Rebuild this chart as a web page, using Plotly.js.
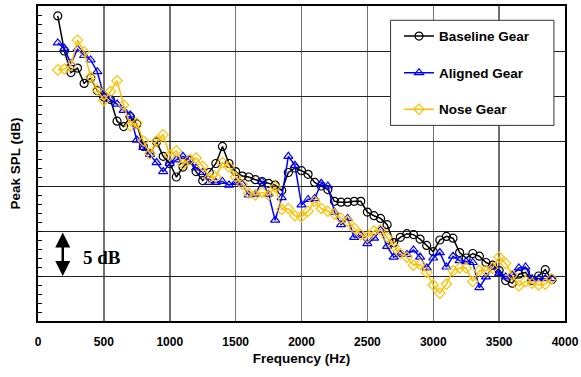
<!DOCTYPE html>
<html>
<head>
<meta charset="utf-8">
<script src="https://cdn.plot.ly/plotly-3.0.1.min.js"></script>
<style>html,body{margin:0;padding:0;background:#fff;}#chart{width:581px;height:377px;}</style>
</head>
<body>
<div id="chart"></div>
<script>
// Frequencies (Hz)
const freq = [150,200,250,300,350,400,450,500,550,600,650,700,750,800,850,900,950,1000,1050,1100,
  1150,1200,1250,1300,1350,1400,1450,1500,1550,1600,1650,1700,1750,1800,1850,1900,1950,2000,2050,2100,
  2150,2200,2250,2300,2350,2400,2450,2500,2550,2600,2650,2700,2750,2800,2850,2900,2950,3000,3050,3100,
  3150,3200,3250,3300,3350,3400,3450,3500,3550,3600,3650,3700,3750,3800,3850,3900];

// Peak SPL (dB, relative scale, 5 dB per grid division)
const baseline = [33.9,30.0,27.6,28.1,26.4,27.0,25.6,24.9,24.6,22.2,21.6,22.7,21.9,19.4,18.6,19.9,18.3,17.5,16.0,17.1,
  17.9,16.6,15.6,16.5,17.5,19.4,17.5,16.6,16.1,16.0,15.7,15.5,15.3,15.1,14.5,16.5,17.0,16.7,16.3,15.4,
  15.0,14.6,13.3,13.2,13.2,13.3,13.3,12.1,11.7,11.4,10.7,8.7,9.3,9.7,9.6,9.1,8.4,7.7,9.0,9.4,
  9.2,7.6,7.0,7.5,7.2,6.5,6.2,5.6,4.5,4.2,5.2,5.4,4.5,5.0,5.7,4.6];

const aligned = [30.9,30.3,28.6,30.2,29.5,29.0,27.7,25.0,24.6,24.1,23.4,22.9,20.1,19.3,18.5,17.6,16.6,17.5,17.9,18.3,
  17.9,17.0,16.5,15.4,15.4,15.5,15.1,15.4,15.2,14.0,14.1,15.5,14.1,11.2,13.7,18.3,17.3,12.9,13.5,13.6,
  15.3,15.0,12.1,10.7,11.4,9.3,9.5,8.6,9.2,10.1,8.3,7.1,7.4,7.4,7.9,7.1,5.9,7.0,7.6,6.0,
  7.2,6.7,6.6,6.5,3.7,4.9,6.0,5.3,4.9,5.1,5.9,6.0,4.7,4.7,4.7,4.7];

const nose = [27.9,28.0,28.4,31.2,29.9,27.1,25.7,24.5,25.5,26.7,24.0,21.7,22.0,20.0,18.6,20.0,20.7,18.4,18.9,17.4,
  17.9,18.1,17.2,15.9,16.0,17.6,17.1,16.0,15.2,14.2,14.0,14.3,14.0,14.9,12.4,12.5,11.7,11.6,12.2,13.3,
  12.5,12.2,11.9,11.4,11.1,10.3,9.6,9.3,10.0,10.1,9.3,8.3,7.5,7.1,6.2,6.3,5.4,4.0,3.1,4.1,
  5.6,5.9,5.9,4.4,5.6,5.6,5.9,7.1,6.4,5.1,3.9,4.4,4.2,4.0,4.1,4.7];

const seriesNames = ["Baseline Gear","Aligned Gear","Nose Gear"];
const xTicks = [0,500,1000,1500,2000,2500,3000,3500,4000];

const F = "Liberation Sans, Arial, sans-serif";
const traces = [
  {x:freq, y:baseline, name:seriesNames[0], legendgroup:"a", mode:"lines+markers",
   line:{color:"#000000", width:1.5}, marker:{symbol:"circle-open", size:8, color:"#000000", line:{width:1.2}}},
  {x:freq, y:aligned, name:seriesNames[1], legendgroup:"b", mode:"lines+markers",
   line:{color:"#0000FF", width:1.5}, marker:{symbol:"triangle-up-open", size:8, color:"#0000FF", line:{width:1.2}}},
  {x:freq, y:nose, name:seriesNames[2], legendgroup:"c", mode:"lines+markers",
   line:{color:"#FFC000", width:1.5}, marker:{symbol:"diamond-open", size:8, color:"#FFC000", line:{width:1.2}}}
];

const layout = {
  width:581, height:377,
  margin:{l:38, r:16, t:6, b:56, pad:0},
  paper_bgcolor:"#fff", plot_bgcolor:"#fff",
  showlegend:true,
  legend:{x:0.685, y:0.953, xanchor:"left", yanchor:"top", bgcolor:"rgba(0,0,0,0)", borderwidth:0,
    font:{family:F, size:13.5, color:"#000", weight:"bold"}, tracegroupgap:16},
  xaxis:{range:[0,4000], tickvals:xTicks, ticktext:xTicks.map(String), showgrid:true, gridcolor:"#707070", gridwidth:1.5,
    zeroline:false, showline:true, mirror:true, linecolor:"#000", linewidth:2, ticks:"", ticklabelstandoff:9,
    tickfont:{family:F, size:12, color:"#000", weight:"bold"},
    title:{text:"Frequency (Hz)", font:{family:F, size:13.5, color:"#000", weight:"bold"}, standoff:5}, automargin:false},
  yaxis:{range:[0,35], dtick:5, showgrid:true, gridcolor:"#222", gridwidth:1, zeroline:false,
    showline:true, mirror:true, linecolor:"#000", linewidth:2, showticklabels:false,
    ticks:"inside", ticklen:4, tickcolor:"#000",
    minor:{dtick:1, ticks:"inside", ticklen:4, tickcolor:"#000", showgrid:false},
    title:{text:"Peak SPL (dB)", font:{family:F, size:13.5, color:"#000", weight:"bold"}, standoff:12}, automargin:false},
  shapes:[
    {type:"rect", xref:"paper", yref:"paper", x0:0.669, x1:0.979, y0:0.621, y1:0.9546,
     line:{color:"#333", width:1}, fillcolor:"#fff", layer:"above"}
  ],
  annotations:[
    {x:188, y:5, ax:188, ay:10, xref:"x", yref:"y", axref:"x", ayref:"y", text:"", showarrow:true,
     arrowhead:2, startarrowhead:2, arrowside:"end+start", arrowwidth:2.5, arrowsize:1.2, startarrowsize:1.2, arrowcolor:"#000"},
    {x:328, y:7.1, xref:"x", yref:"y", xanchor:"left", yanchor:"middle", showarrow:false, text:"5 dB",
     font:{family:"Liberation Serif, Times New Roman, serif", size:19, color:"#000", weight:"bold"}}
  ]
};
Plotly.newPlot("chart", traces, layout, {staticPlot:true, displayModeBar:false});
</script>
</body>
</html>
